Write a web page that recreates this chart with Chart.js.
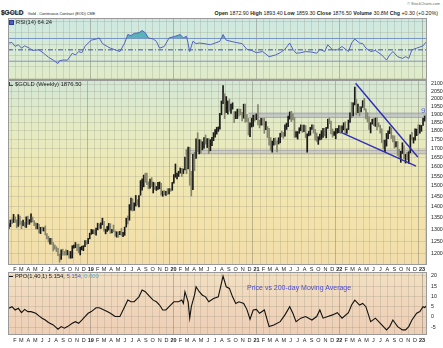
<!DOCTYPE html>
<html>
<head>
<meta charset="utf-8">
<script src="https://cdn.jsdelivr.net/npm/chart.js@4.4.0/dist/chart.umd.min.js"></script>
<style>
  body { margin: 0; width: 443px; height: 348px; position: relative; overflow: hidden; background: #fff;
         font-family: Arial, "Liberation Sans", sans-serif; color: #222; }
  canvas { position: absolute; left: 0; }
  .t { position: absolute; white-space: nowrap; line-height: 1; }
  .ico { display: inline-block; vertical-align: middle; margin-right: 2px; }
</style>
</head>
<body>
<div class="t" style="left:1px;top:2px;"><b style="font-size:6.5px">$GOLD</b> <span style="font-size:3.8px">Gold - Continuous Contract (EOD) CME</span></div>
<div class="t" style="right:3px;top:3px;font-size:3.8px;color:#666">© StockCharts.com</div>
<div class="t" style="left:1px;top:11px;font-size:4px">16-Jan-2023</div>
<div class="t" style="right:5px;top:11px;font-size:5.3px"><b>Open</b> 1872.90 <b>High</b> 1893.40 <b>Low</b> 1859.30 <b>Close</b> 1876.50 <b>Volume</b> 30.8M <b>Chg</b> +0.30 (+0.20%)</div>

<canvas id="rsiChart" width="443" height="62" style="top:18px"></canvas>
<canvas id="priceChart" width="443" height="193" style="top:80px"></canvas>
<canvas id="ppoChart" width="443" height="76" style="top:272px"></canvas>

<div class="t" style="left:9px;top:20px;font-size:5.8px"><span class="ico" style="width:3px;height:3px;background:#4d5fc4;border:1px solid #2b3b9a"></span>RSI(14) 64.24</div>
<div class="t" style="left:9px;top:82px;font-size:5.8px"><span class="ico" style="width:3px;height:3px;border-left:1px solid #444;border-bottom:1px solid #444"></span>$GOLD (Weekly) 1876.50</div>
<div class="t" style="left:9px;top:274px;font-size:5.8px"><span class="ico" style="width:4px;height:0;border-top:1px solid #111"></span>PPO(1,40,1) 5.154, <span style="color:#4b5cc8">5.154,</span> <span style="color:#5aa8c8">0.000</span></div>
<div class="t" style="left:247px;top:284px;font-size:7px;color:#4a4ad0">Price vs 200-day Moving Average</div>
<div class="t" style="left:421px;top:107px;font-size:8px;color:#5a68c8">9</div>

<script>
// --- Data, one bar per week starting Mon 1 Jan 2018 ---
const monthLetters = ['J', 'F', 'M', 'A', 'M', 'J', 'J', 'A', 'S', 'O', 'N', 'D'];

const highs = [
  1325,1341,1345,1366,1355,1342,1365,1358,1335,1341,1330,1355,1358,1343,1369,1354,1338,1328,1326,1322,
  1309,1310,1308,1315,1282,1271,1262,1262,1245,1235,1228,1221,1198,1215,1218,1209,1215,1213,1208,1209,
  1232,1235,1245,1238,1239,1226,1230,1232,1253,1253,1262,1284,
  1300,1298,1298,1306,1327,1324,1328,1349,1335,1301,1313,1326,1325,1300,1319,1294,1290,1290,1292,1304,
  1288,1310,1349,1359,1411,1442,1439,1419,1454,1434,1453,1527,1536,1555,1565,1566,1521,1535,1542,1519,
  1516,1498,1518,1520,1513,1475,1478,1474,1487,1487,1487,1518,
  1558,1613,1565,1575,1592,1590,1587,1650,1691,1705,1704,1575,1665,1677,1753,1788,1748,1747,1736,1760,
  1775,1754,1755,1748,1762,1789,1807,1820,1823,1906,1986,2089,2034,2015,1986,1998,1966,1974,1917,1917,
  1933,1933,1933,1912,1965,1966,1900,1875,1848,1875,1895,1897,
  1903,1962,1865,1875,1875,1876,1855,1825,1815,1760,1740,1755,1758,1741,1759,1785,1797,1790,1836,1846,
  1889,1915,1919,1904,1881,1795,1795,1818,1835,1834,1834,1831,1782,1796,1820,1836,1834,1808,1787,1765,
  1781,1800,1815,1815,1820,1870,1877,1859,1810,1795,1813,1814,1831,
  1830,1830,1848,1854,1812,1865,1910,1976,1974,2079,1996,1966,1950,1948,1988,2003,1935,1910,1884,1849,
  1870,1874,1877,1880,1848,1833,1812,1745,1745,1784,1799,1824,1817,1772,1770,1737,1737,1692,1682,1730,
  1712,1665,1677,1680,1776,1791,1760,1812,1810,1836,1834,1832,
  1875,1890,1893
];
const lows = [
  1303,1312,1325,1330,1330,1307,1313,1322,1303,1316,1311,1308,1322,1322,1331,1332,1316,1302,1302,1285,
  1282,1294,1293,1276,1260,1247,1238,1237,1211,1218,1208,1192,1167,1177,1194,1194,1194,1195,1182,1182,
  1183,1222,1224,1212,1204,1195,1215,1212,1228,1237,1240,1260,
  1279,1282,1280,1276,1298,1304,1304,1320,1292,1281,1291,1297,1283,1285,1290,1271,1267,1267,1278,1274,
  1269,1275,1310,1323,1340,1385,1381,1384,1404,1408,1400,1455,1480,1496,1518,1507,1486,1490,1497,1466,
  1483,1478,1483,1486,1456,1450,1456,1454,1459,1461,1474,1479,
  1514,1544,1535,1548,1565,1548,1563,1582,1562,1587,1504,1451,1482,1578,1643,1680,1668,1671,1690,1700,
  1722,1703,1670,1685,1714,1742,1762,1780,1796,1809,1897,1968,1874,1911,1902,1920,1906,1933,1848,1873,
  1874,1890,1896,1860,1876,1851,1855,1775,1765,1822,1826,1858,
  1867,1835,1817,1833,1833,1785,1806,1760,1717,1687,1677,1716,1720,1678,1723,1730,1764,1756,1768,1808,
  1825,1870,1855,1866,1761,1762,1751,1785,1800,1790,1794,1759,1677,1770,1774,1808,1786,1745,1738,1721,
  1746,1750,1761,1770,1758,1814,1842,1781,1762,1772,1753,1785,1789,
  1784,1792,1805,1780,1784,1807,1850,1878,1890,1960,1896,1910,1890,1916,1944,1928,1872,1852,1808,1787,
  1840,1830,1826,1805,1823,1786,1730,1695,1680,1711,1754,1783,1755,1735,1700,1707,1659,1644,1622,1670,
  1642,1618,1636,1616,1674,1747,1728,1745,1771,1777,1786,1797,
  1832,1858,1859
];
const closes = [
  1322,1338,1332,1351,1333,1315,1349,1330,1323,1324,1313,1349,1327,1336,1347,1338,1323,1315,1320,1291,
  1303,1298,1302,1278,1270,1254,1255,1241,1231,1223,1214,1194,1184,1213,1201,1199,1198,1201,1196,1205,
  1222,1229,1235,1233,1210,1222,1223,1226,1252,1241,1258,1282,
  1287,1292,1283,1305,1318,1316,1326,1329,1298,1298,1302,1313,1295,1295,1291,1276,1288,1281,1287,1276,
  1284,1306,1346,1344,1400,1414,1400,1415,1426,1419,1452,1509,1515,1537,1529,1515,1499,1515,1506,1513,
  1489,1490,1505,1510,1462,1468,1462,1466,1465,1481,1480,1515,
  1552,1560,1560,1571,1587,1573,1586,1648,1566,1673,1516,1484,1654,1645,1752,1698,1735,1700,1713,1756,
  1735,1751,1683,1737,1753,1781,1790,1801,1810,1897,1985,2028,1944,1947,1975,1934,1947,1962,1866,1900,
  1930,1906,1905,1880,1952,1888,1872,1788,1840,1840,1889,1883,
  1895,1850,1830,1856,1850,1814,1823,1784,1729,1700,1720,1744,1732,1729,1744,1780,1778,1768,1831,1838,
  1876,1903,1892,1879,1769,1781,1784,1810,1815,1802,1812,1763,1780,1781,1818,1833,1791,1754,1751,1758,
  1758,1768,1796,1784,1818,1868,1852,1785,1784,1784,1804,1812,1829,
  1797,1817,1835,1795,1807,1842,1899,1887,1966,1985,1921,1958,1923,1946,1975,1932,1897,1883,1812,1844,
  1853,1851,1875,1840,1830,1801,1742,1703,1727,1781,1791,1816,1762,1749,1722,1728,1683,1655,1672,1709,
  1648,1656,1644,1681,1771,1754,1755,1809,1810,1793,1804,1826,
  1866,1877,1876
];

const priceTicks = [1200,1250,1300,1350,1400,1450,1500,1550,1600,1650,1700,1750,1800,1850,1900,1950,2000,2050,2100];

// horizontal support / resistance zones and the falling wedge (week index, price)
const resistanceBand = [1881, 1908];
const supportBand = [1668, 1688];
const bandStartWeeks = [151, 111];
const wedgeUpper = [[218.5, 2105], [257.7, 1651]];
const wedgeLower = [[209.3, 1791], [256.6, 1602]];

const rsiWeeks = [0,2,4,6,8,10,13,15,19,22,25,28,31,32,34,37,40,42,44,46,48,50,52,55,57,59,62,64,67,70,
  73,75,77,79,82,84,86,88,91,93,95,98,101,105,108,110,112,114,116,118,120,123,127,130,133,135,137,140,143,147,
  150,153,156,160,164,168,171,174,177,179,181,184,187,191,194,196,199,201,204,207,210,214,216,218,221,223,225,228,231,235,
  238,240,242,245,248,250,252,254,257,259,261,263];
const rsiValues = [62,63,56,59,53,57,53,49,50,44,37,32,26,31,32,32,44,41,47,45,56,62,67,69,71,61,56,53,50,47,
  62,77,75,79,80,84,80,71,69,65,53,56,71,74,77,71,74,47,65,61,62,61,59,62,65,77,67,65,63,61,
  51,49,45,47,38,41,45,51,62,51,44,45,47,46,44,51,47,59,50,50,56,47,62,69,62,61,53,47,49,41,
  32,41,47,38,35,38,35,50,53,55,57,64];
const rsiTicks = [0,10,20,30,40,50,60,70,80,90,100];
const rsiLabelled = [10,30,50,70,90];

const ppoWeeks = [0,2,4,6,8,10,12,14,17,19,21,23,25,28,31,33,35,37,40,42,44,46,48,50,52,55,57,60,62,64,
  67,70,73,75,77,79,82,84,86,89,91,93,95,97,99,101,104,107,109,110,111,112,113,114,115,117,118,120,122,124,
  126,129,132,135,137,139,141,143,145,148,150,152,154,156,158,161,164,167,171,174,177,179,181,184,187,191,194,196,198,201,
  204,207,210,214,216,218,221,223,225,228,231,235,238,240,242,245,248,250,252,254,257,259,261,262,263];
const ppoValues = [4.2,5.0,3.4,4.2,2.1,3.7,2.6,2.6,1.8,0.5,-0.6,-1.5,-2.7,-3.9,-6.0,-4.7,-5.5,-4.7,-3.1,-2.3,-3.1,-1.5,0.2,1.8,2.6,4.5,4.5,3.4,2.6,1.8,
  0.2,0.2,5.0,8.2,7.4,7.4,9.8,13.1,12.3,9.8,8.2,7.4,5.8,3.4,3.4,5.0,7.4,7.4,8.2,6.6,12.3,9.8,7.4,-0.6,5.0,10.6,14.7,12.3,10.6,9.8,
  7.4,9.0,9.8,19.9,14.7,13.9,9.8,6.6,7.4,6.6,3.7,-1.1,3.4,3.7,1.8,3.4,-4.7,-3.9,-2.3,1.0,5.0,1.8,-2.3,-0.6,0.2,-1.5,0.2,3.4,-0.6,0.2,
  1.0,2.1,-0.6,2.1,5.8,8.2,5.8,6.6,5.0,-2.3,-0.6,-3.9,-6.3,-4.7,-1.5,-4.7,-6.3,-6.3,-4.7,-1.5,1.8,2.6,5.0,4.6,5.2];
const ppoTicks = [-5,0,5,10,15,20];

// --- Month grid: a tick at the first day of each month, January shows the year ---
const firstWeek = Date.UTC(2018, 0, 1);
const weekMs = 7 * 86400000;
const monthTicks = [], monthLabels = [], yearTick = [];
for (let m = 1; m <= 60; m++) {
  const y = 2018 + Math.floor(m / 12), mo = m % 12;
  monthTicks.push((Date.UTC(y, mo, 1) - firstWeek) / weekMs - 0.5);
  monthLabels.push(mo === 0 ? String(y).slice(2) : monthLetters[mo]);
  yearTick.push(mo === 0);
}

const FONT = 'Arial, "Liberation Sans", sans-serif';

function noPad(s) { s.paddingLeft = s.paddingRight = s.paddingTop = s.paddingBottom = 0; }

function xScale(height, showLabels, pad) {
  return {
    type: 'linear', min: -0.5, max: 263.5, offset: false,
    afterBuildTicks: s => { s.ticks = monthTicks.map(v => ({ value: v })); },
    afterFit: s => { s.height = height; noPad(s); },
    border: { display: false },
    grid: { drawTicks: false, color: c => yearTick[c.index] ? 'rgba(115,115,100,0.42)' : 'rgba(140,140,120,0.24)' },
    ticks: {
      display: showLabels, autoSkip: false, maxRotation: 0, minRotation: 0, padding: pad, color: '#222',
      font: c => ({ family: FONT, size: 5.5, weight: yearTick[c.index] ? 'bold' : 'normal' }),
      callback: (v, i) => monthLabels[i]
    }
  };
}

function yScale(type, min, max, ticks, label) {
  return {
    type, position: 'right', min, max,
    afterBuildTicks: s => { s.ticks = ticks.map(v => ({ value: v })); },
    afterFit: s => { s.width = 16; noPad(s); },
    border: { display: false },
    grid: { drawTicks: false, color: 'rgba(140,140,120,0.24)' },
    ticks: { padding: 4, color: '#222', font: { family: FONT, size: 5.3 }, callback: label }
  };
}

// gradient panel background and a thin frame round the plot area
function panel(stops) {
  return {
    id: 'panel',
    beforeDraw(chart) {
      const { ctx, chartArea: a } = chart;
      const g = ctx.createLinearGradient(0, a.top, 0, a.bottom);
      stops.forEach((c, i) => g.addColorStop(i / (stops.length - 1), c));
      ctx.save();
      ctx.fillStyle = g;
      ctx.fillRect(a.left, a.top, a.right - a.left, a.bottom - a.top);
      ctx.restore();
    },
    afterDraw(chart) {
      const { ctx, chartArea: a } = chart;
      ctx.save();
      ctx.strokeStyle = '#9a9a9a';
      ctx.lineWidth = 1;
      ctx.strokeRect(a.left + 0.5, a.top + 0.5, a.right - a.left - 1, a.bottom - a.top - 1);
      ctx.restore();
    }
  };
}

const common = {
  responsive: false, animation: false, devicePixelRatio: 1,
  layout: { padding: { left: 8, right: 0, top: 0, bottom: 0 } },
  plugins: { legend: { display: false }, tooltip: { enabled: false } },
  elements: { point: { radius: 0 }, line: { tension: 0 } }
};

function hline(value, color, dash, width) {
  return { type: 'line', data: [{ x: -0.5, y: value }, { x: 263.5, y: value }], borderColor: color,
           borderWidth: width || 1, borderDash: dash || [], pointRadius: 0, fill: false, order: 3 };
}

// --- RSI panel ---
new Chart(document.getElementById('rsiChart'), {
  type: 'line',
  data: {
    datasets: [
      {
        data: rsiWeeks.map((w, i) => ({ x: w, y: rsiValues[i] })),
        borderColor: '#5264c2', borderWidth: 1, pointRadius: 0, order: 1,
        fill: { target: { value: 70 }, above: 'rgba(60,165,175,0.8)', below: 'rgba(0,0,0,0)' }
      },
      hline(70, '#8791cc'), hline(30, '#8791cc'), hline(50, '#3c4bb4', [5, 2, 1, 2])
    ]
  },
  options: Object.assign({}, common, {
    scales: {
      x: xScale(0, false, 0),
      y: yScale('linear', -3, 106, rsiTicks, v => rsiLabelled.includes(v) ? String(v) : '')
    }
  }),
  plugins: [panel(['#cde8e2', '#d8ebd6', '#e1ebc8'])]
});

// --- Price panel ---
const barColors = closes.map((c, i) => (i > 0 && c < closes[i - 1]) ? '#86866f' : '#1a1a1a');

function band(range, start, order) {
  return [
    { type: 'line', data: [{ x: start, y: range[1] }, { x: 263.5, y: range[1] }], borderColor: 'rgba(130,130,160,0.55)',
      borderWidth: 1, pointRadius: 0, fill: false, order },
    { type: 'line', data: [{ x: start, y: range[0] }, { x: 263.5, y: range[0] }], borderColor: 'rgba(130,130,160,0.55)',
      borderWidth: 1, pointRadius: 0, fill: '-1', backgroundColor: 'rgba(175,175,195,0.5)', order }
  ];
}

function segment(pts) {
  return { type: 'line', data: pts.map(p => ({ x: p[0], y: p[1] })), borderColor: '#2e2eb8', borderWidth: 1.4,
           pointRadius: 0, fill: false, order: 0 };
}

new Chart(document.getElementById('priceChart'), {
  type: 'bar',
  data: {
    datasets: [
      ...band(resistanceBand, bandStartWeeks[0], 5),
      ...band(supportBand, bandStartWeeks[1], 5),
      {
        type: 'bar', data: highs.map((h, i) => ({ x: i, y: [lows[i], h] })),
        backgroundColor: barColors, barThickness: 1, order: 2
      },
      segment(wedgeUpper), segment(wedgeLower)
    ]
  },
  options: Object.assign({}, common, {
    scales: {
      x: xScale(8, true, 1),
      y: yScale('logarithmic', 1156, 2128, priceTicks, v => String(v))
    }
  }),
  plugins: [panel(['#d3e7d6', '#e4ebc4', '#efe8b4', '#f3e3ab', '#f2ddaa'])]
});

// --- PPO panel ---
new Chart(document.getElementById('ppoChart'), {
  type: 'line',
  data: {
    datasets: [{
      data: ppoWeeks.map((w, i) => ({ x: w, y: ppoValues[i] })),
      borderColor: '#111', borderWidth: 1.1, pointRadius: 0, fill: false
    }]
  },
  options: Object.assign({}, common, {
    scales: {
      x: xScale(13, true, 2),
      y: yScale('linear', -8.8, 21.9, ppoTicks, v => String(v))
    }
  }),
  plugins: [panel(['#f2e0c2', '#f0d6bb', '#eecfb6'])]
});
</script>
</body>
</html>
